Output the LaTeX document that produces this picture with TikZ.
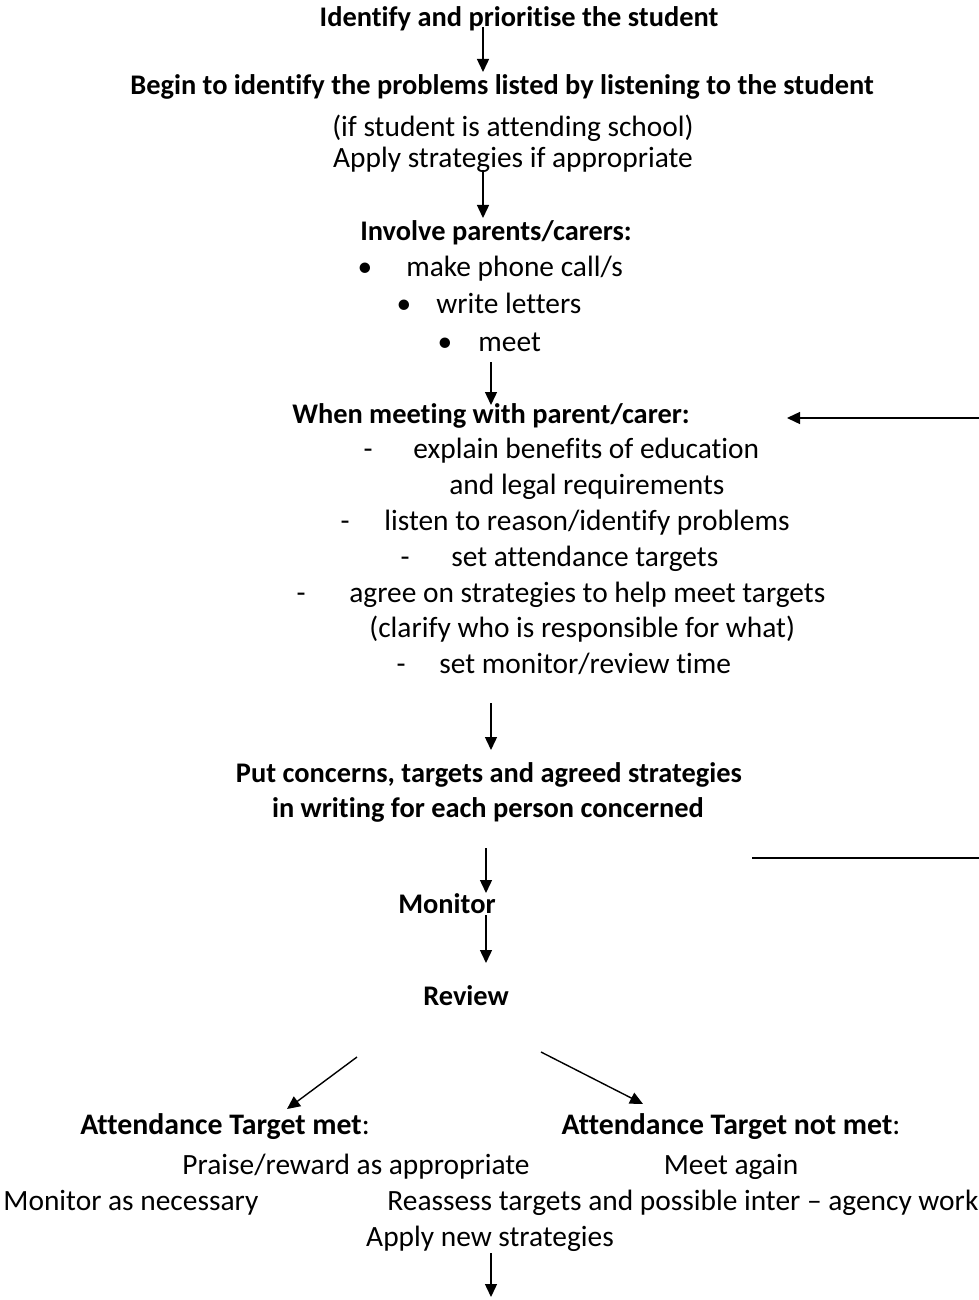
\documentclass[tikz,border=0pt]{standalone}
\usepackage{fontspec}
\setmainfont{Carlito}[Ligatures=NoCommon]
\usetikzlibrary{arrows.meta}

\tikzset{
  txt/.style={inner sep=0pt, font=\fontsize{14.7}{17}\selectfont, text height=10pt, text depth=3pt, yshift=-1pt},
  head/.style={txt, font=\fontsize{14.2}{17}\selectfont\bfseries},
  outcome/.style={txt, font=\fontsize{14.9}{17}\selectfont\bfseries},
  arr/.style={-{Triangle[length=6.5pt,width=6pt]}, line width=0.7pt},
  plain/.style={line width=0.7pt},
}

\begin{document}
\begin{tikzpicture}[x=0.5pt,y=-0.5pt]
\useasboundingbox (0,0) rectangle (979,1300);

% First the student and the listening step
\node[head] (ident) at (519,18) {Identify and prioritise the student};
\node[head] (begin) at (502,86) {Begin to identify the problems listed by listening to the student};
\node[txt] (ifatt) at (513,128) {(if student is attending school)};
\node[txt] (apply) at (513,159) {Apply strategies if appropriate};

% Now involving parents/carers
\node[head] (involve) at (496,232) {Involve parents/carers:};
\node[txt] (bul1) at (365,268) {\textbullet};
\node[txt, anchor=west] (phone) at (406,268) {make phone call/s};
\node[txt] (bul2) at (404,305) {\textbullet};
\node[txt, anchor=west] (letters) at (436,305) {write letters};
\node[txt] (bul3) at (445,342) {\textbullet};
\node[txt, anchor=west] (meet) at (478,342) {meet};

% Now the meeting itself
\node[head] (meeting) at (491,414) {When meeting with parent/carer:};
\node[txt] (dash1) at (368,449) {-};
\node[txt, anchor=west] (explain) at (413,449) {explain benefits of education};
\node[txt, anchor=west] (legal) at (449,485) {and legal requirements};
\node[txt] (dash2) at (345,521) {-};
\node[txt, anchor=west] (listen) at (384,521) {listen to reason/identify problems};
\node[txt] (dash3) at (405,557) {-};
\node[txt, anchor=west] (settarg) at (451,557) {set attendance targets};
\node[txt] (dash4) at (301,593) {-};
\node[txt, anchor=west] (agree) at (349,593) {agree on strategies to help meet targets};
\node[txt, anchor=west] (clarify) at (369,628) {(clarify who is responsible for what)};
\node[txt] (dash5) at (401,664) {-};
\node[txt, anchor=west] (setmon) at (439,664) {set monitor/review time};

% Now writing it down, monitor and review
\node[head] (writing1) at (489,773) {Put concerns, targets and agreed strategies};
\node[head] (writing2) at (488,808) {in writing for each person concerned};
\node[head] (monitor) at (447,904) {Monitor};
\node[head] (review) at (466,996) {Review};

% Now the two outcomes
\node[outcome] (met) at (225,1125) {Attendance Target met\textmd{:}};
\node[outcome] (notmet) at (731,1125) {Attendance Target not met\textmd{:}};
\node[txt] (praise) at (356,1165) {Praise/reward as appropriate};
\node[txt] (again) at (731,1165) {Meet again};
\node[txt, anchor=west] (monnec) at (3,1201) {Monitor as necessary};
\node[txt, anchor=west] (reassess) at (387,1201) {Reassess targets and possible inter – agency work};
\node[txt] (newstrat) at (490,1237) {Apply new strategies};

% arrow ends
\coordinate (a1s) at (483,27);   \coordinate (a1e) at (483,72);
\coordinate (a2s) at (483,170);  \coordinate (a2e) at (483,218);
\coordinate (a3s) at (491,362);  \coordinate (a3e) at (491,405);
\coordinate (a4s) at (491,703);  \coordinate (a4e) at (491,750);
\coordinate (a5s) at (486,848);  \coordinate (a5e) at (486,893);
\coordinate (a6s) at (486,915);  \coordinate (a6e) at (486,963);
\coordinate (a7s) at (357,1057); \coordinate (a7e) at (287,1109);
\coordinate (a8s) at (541,1052); \coordinate (a8e) at (643,1104);
\coordinate (a9s) at (491,1253); \coordinate (a9e) at (491,1297);
\coordinate (backs) at (979,418); \coordinate (backe) at (787,418);
\coordinate (outs) at (752,858);  \coordinate (oute) at (979,858);

\draw[arr] (a1s) -- (a1e);
\draw[arr] (a2s) -- (a2e);
\draw[arr] (a3s) -- (a3e);
\draw[arr] (a4s) -- (a4e);
\draw[arr] (a5s) -- (a5e);
\draw[arr] (a6s) -- (a6e);
\draw[arr] (a7s) -- (a7e);
\draw[arr] (a8s) -- (a8e);
\draw[arr] (a9s) -- (a9e);
\draw[arr] (backs) -- (backe);
\draw[plain] (outs) -- (oute);
\end{tikzpicture}
\end{document}
